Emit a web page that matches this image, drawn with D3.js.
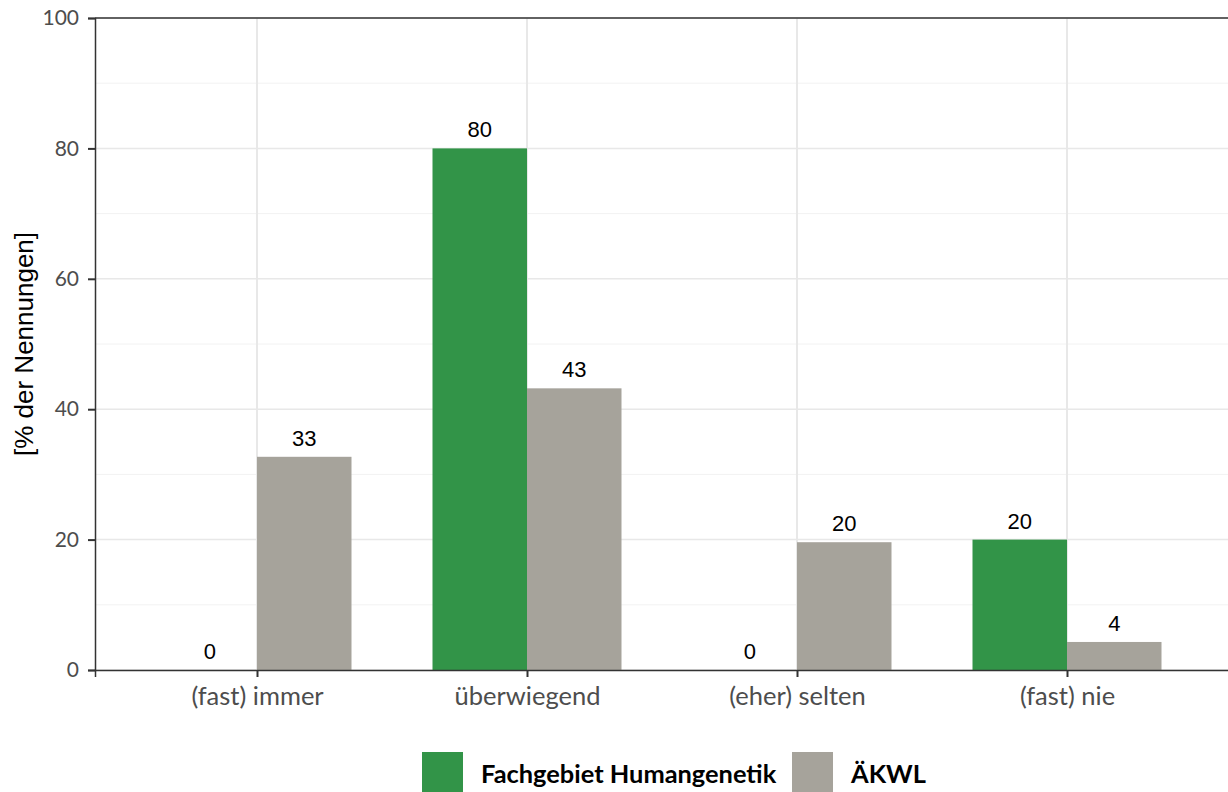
<!DOCTYPE html>
<html>
<head>
<meta charset="utf-8">
<script src="https://cdn.jsdelivr.net/npm/d3@7"></script>
<style>
  body { margin: 0; background: #fff; }
  svg { display: block; }
</style>
</head>
<body>
<svg width="1228" height="792"></svg>
<script>
// daten
const categories = ["(fast) immer", "überwiegend", "(eher) selten", "(fast) nie"];
const seriesNames = ["Fachgebiet Humangenetik", "ÄKWL"];
const humangenetik = [0, 80, 0, 20];
const aekwl = [32.7, 43.2, 19.6, 4.3];
const yTicks = [0, 20, 40, 60, 80, 100];
const colors = ["#329448", "#a6a39b"];

const svg = d3.select("svg");
const pLeft = 95, pRight = 1229, pTop = 18, pBottom = 670;

const x = d3.scalePoint().domain(categories).range([pLeft, pRight]).padding(0.6);
const step = x.step();
const xInner = d3.scaleBand().domain(seriesNames).range([-step * 0.35, step * 0.35]);
const y = d3.scaleLinear().domain([0, 100]).range([pBottom, pTop]);

const rows = categories.map((c, i) => ({
  cat: c,
  vals: [humangenetik[i], aekwl[i]]
}));

// gitter
const grid = svg.append("g");
d3.range(10, 100, 20).forEach(v => {
  grid.append("line").attr("x1", pLeft).attr("x2", pRight)
    .attr("y1", y(v)).attr("y2", y(v))
    .attr("stroke", "#f2f2f2").attr("stroke-width", 1);
});
yTicks.forEach(v => {
  grid.append("line").attr("x1", pLeft).attr("x2", pRight)
    .attr("y1", y(v)).attr("y2", y(v))
    .attr("stroke", "#e8e8e8").attr("stroke-width", 1.5);
});
categories.forEach(c => {
  grid.append("line").attr("x1", x(c)).attr("x2", x(c))
    .attr("y1", pTop).attr("y2", pBottom)
    .attr("stroke", "#e8e8e8").attr("stroke-width", 2);
});

// balken
const groups = svg.append("g").selectAll("g")
  .data(rows).join("g")
  .attr("transform", d => `translate(${x(d.cat)},0)`);

groups.selectAll("rect")
  .data(d => d.vals.map((v, j) => ({ key: seriesNames[j], v, j })))
  .join("rect")
  .attr("x", d => xInner(d.key))
  .attr("width", xInner.bandwidth())
  .attr("y", d => y(d.v))
  .attr("height", d => pBottom - y(d.v))
  .attr("fill", d => colors[d.j]);

groups.selectAll("text")
  .data(d => d.vals.map((v, j) => ({ key: seriesNames[j], v, j })))
  .join("text")
  .attr("x", d => xInner(d.key) + xInner.bandwidth() / 2)
  .attr("y", d => y(d.v) - 11)
  .attr("text-anchor", "middle")
  .style("font-family", "'Liberation Sans', Arial, sans-serif")
  .style("font-size", "22px")
  .style("fill", "#000")
  .text(d => Math.round(d.v));

// achsen
const yAxis = svg.append("g")
  .attr("transform", `translate(${pLeft},0)`)
  .call(d3.axisLeft(y).tickValues(yTicks).tickSize(7).tickPadding(9));
const xAxis = svg.append("g")
  .attr("transform", `translate(0,${pBottom})`)
  .call(d3.axisBottom(x).tickSize(7).tickPadding(10));

[yAxis, xAxis].forEach(a => {
  a.select(".domain").attr("stroke", "#333").attr("stroke-width", 1.5);
  a.selectAll(".tick line").attr("stroke", "#333").attr("stroke-width", 2);
  a.selectAll(".tick text")
    .style("font-family", "Lato, 'Open Sans', sans-serif")
    .style("fill", "#4d4d4d");
});
yAxis.selectAll(".tick text").style("font-size", "21px");
xAxis.selectAll(".tick text").style("font-size", "25.5px");

// rahmen oben
svg.append("line").attr("x1", pLeft).attr("x2", pRight)
  .attr("y1", pTop).attr("y2", pTop)
  .attr("stroke", "#333").attr("stroke-width", 1.5);

// y-titel
svg.append("text")
  .attr("transform", `translate(33,${(pTop + pBottom) / 2}) rotate(-90)`)
  .attr("text-anchor", "middle")
  .style("font-family", "'Liberation Sans', Arial, sans-serif")
  .style("font-size", "26px")
  .style("fill", "#000")
  .text("[% der Nennungen]");

// legende
const legendPos = [422, 792];
const legend = svg.append("g").selectAll("g")
  .data(seriesNames).join("g")
  .attr("transform", (d, i) => `translate(${legendPos[i]},752)`);
legend.append("rect")
  .attr("width", 41).attr("height", 40)
  .attr("fill", (d, i) => colors[i]);
legend.append("text")
  .attr("x", 59).attr("y", 31)
  .style("font-family", "Lato, 'Open Sans', sans-serif")
  .style("font-weight", "bold")
  .style("font-size", "25.4px")
  .style("fill", "#000")
  .text(d => d);
</script>
</body>
</html>
